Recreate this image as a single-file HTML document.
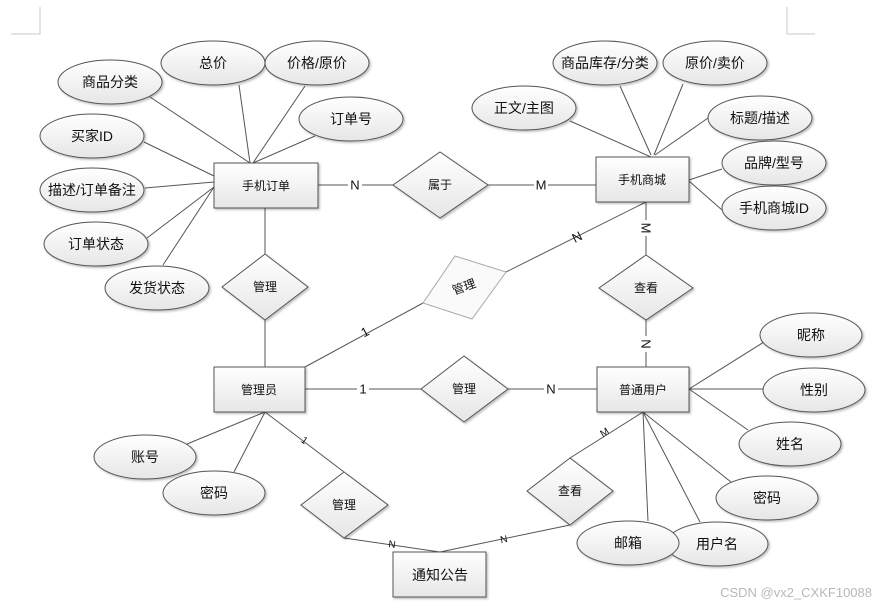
<!DOCTYPE html>
<html><head><meta charset="utf-8"><style>
html,body{margin:0;padding:0;background:#fff;}
svg{display:block;font-family:"Liberation Sans","Noto Sans CJK SC",sans-serif;}
</style></head><body>
<svg width="875" height="609" viewBox="0 0 875 609" xmlns="http://www.w3.org/2000/svg">
<defs>
<linearGradient id="g" x1="0" y1="0" x2="0" y2="1"><stop offset="0" stop-color="#ffffff"/><stop offset="1" stop-color="#e6e6e6"/></linearGradient>
<filter id="s" x="-20%" y="-20%" width="140%" height="150%"><feDropShadow dx="1.5" dy="1.5" stdDeviation="1" flood-color="#000" flood-opacity="0.25"/></filter>
</defs>
<g stroke="#c8c8c8" stroke-width="1" fill="none">
<path d="M40 7V34H11M787 7V34H815"/>
</g>
<g stroke="#555" stroke-width="1" fill="none">
<line x1="150" y1="97" x2="250" y2="163"/><line x1="239" y1="85" x2="250" y2="163"/>
<line x1="305" y1="86" x2="253" y2="163"/><line x1="315" y1="136" x2="253" y2="163"/>
<line x1="144" y1="142" x2="214" y2="176"/><line x1="145" y1="188" x2="214" y2="182"/>
<line x1="147" y1="238" x2="214" y2="187"/><line x1="163" y1="265" x2="214" y2="187"/>
<line x1="318" y1="185" x2="393" y2="185"/><line x1="488" y1="185" x2="596" y2="185"/>
<line x1="570" y1="121" x2="651" y2="157"/><line x1="620" y1="86" x2="651" y2="155"/>
<line x1="683" y1="84" x2="654" y2="155"/><line x1="708" y1="118" x2="655" y2="155"/>
<line x1="722" y1="169" x2="689" y2="180"/><line x1="722" y1="210" x2="689" y2="181"/>
<line x1="646" y1="202" x2="646" y2="255"/><line x1="646" y1="320" x2="646" y2="367"/>
<line x1="265" y1="208" x2="265" y2="254"/><line x1="265" y1="320" x2="265" y2="367"/>
<line x1="305" y1="367" x2="423" y2="303"/><line x1="506" y1="272" x2="646" y2="202"/>
<line x1="305" y1="389" x2="421" y2="389"/><line x1="508" y1="389" x2="597" y2="389"/>
<line x1="265" y1="412" x2="187" y2="444"/><line x1="265" y1="412" x2="234" y2="472"/>
<line x1="265" y1="412" x2="344" y2="472"/><line x1="344" y1="538" x2="440" y2="552"/>
<line x1="440" y1="552" x2="570" y2="525"/><line x1="570" y1="458" x2="643" y2="412"/>
<line x1="689" y1="389" x2="764" y2="342"/><line x1="689" y1="389" x2="765" y2="389"/>
<line x1="689" y1="389" x2="748" y2="430"/><line x1="643" y1="412" x2="648" y2="521"/>
<line x1="643" y1="412" x2="700" y2="522"/><line x1="643" y1="412" x2="731" y2="482"/>
</g>
<g fill="url(#g)" stroke="#555" stroke-width="1" filter="url(#s)">
<rect x="214" y="163" width="104" height="45"/>
<rect x="596" y="157" width="93" height="45"/>
<rect x="214" y="367" width="91" height="45"/>
<rect x="597" y="367" width="92" height="45"/>
<rect x="393" y="552" width="93" height="45"/>
<polygon points="440,152 488,185 440,218 393,185"/>
<polygon points="265,254 308,287 265,320 222,287"/>
<polygon points="646,255 693,288 646,320 599,288"/>
<polygon points="464,356 508,389 464,422 421,389"/>
<polygon points="344,472 388,505 344,538 301,505"/>
<polygon points="570,458 613,491 570,525 527,491"/>
<ellipse cx="213" cy="63" rx="52" ry="22"/><ellipse cx="317" cy="63" rx="52" ry="22"/>
<ellipse cx="110" cy="82" rx="52" ry="22"/><ellipse cx="351" cy="119" rx="52" ry="22"/>
<ellipse cx="92" cy="136" rx="52" ry="22"/><ellipse cx="92" cy="190" rx="52" ry="22"/>
<ellipse cx="96" cy="244" rx="52" ry="22"/><ellipse cx="157" cy="288" rx="52" ry="22"/>
<ellipse cx="605" cy="63" rx="52" ry="22"/><ellipse cx="715" cy="63" rx="52" ry="22"/>
<ellipse cx="524" cy="108" rx="52" ry="22"/><ellipse cx="760" cy="118" rx="52" ry="22"/>
<ellipse cx="774" cy="163" rx="52" ry="22"/><ellipse cx="774" cy="208" rx="52" ry="22"/>
<ellipse cx="811" cy="335" rx="51" ry="22"/><ellipse cx="814" cy="390" rx="51" ry="22"/>
<ellipse cx="790" cy="444" rx="51" ry="22"/><ellipse cx="767" cy="498" rx="51" ry="22"/>
<ellipse cx="717" cy="544" rx="51" ry="22"/><ellipse cx="628" cy="543" rx="51" ry="22"/>
<ellipse cx="145" cy="457" rx="51" ry="22"/><ellipse cx="214" cy="493" rx="51" ry="22"/>
</g>
<polygon points="455,256 506,272 472,319 423,303" fill="#fafafa" stroke="#aaa" stroke-width="1"/>
<g font-size="14" fill="#111" text-anchor="middle" dominant-baseline="central">
<text x="213" y="63">总价</text><text x="317" y="63">价格/原价</text>
<text x="110" y="82">商品分类</text><text x="351" y="119">订单号</text>
<text x="92" y="136">买家ID</text><text x="92" y="190">描述/订单备注</text>
<text x="96" y="244">订单状态</text><text x="157" y="288">发货状态</text>
<text x="605" y="63">商品库存/分类</text><text x="715" y="63">原价/卖价</text>
<text x="524" y="108">正文/主图</text><text x="760" y="118">标题/描述</text>
<text x="774" y="163">品牌/型号</text><text x="774" y="208">手机商城ID</text>
<text x="811" y="335">昵称</text><text x="814" y="390">性别</text>
<text x="790" y="444">姓名</text><text x="767" y="498">密码</text>
<text x="717" y="544">用户名</text><text x="628" y="543">邮箱</text>
<text x="145" y="457">账号</text><text x="214" y="493">密码</text>
<text x="440" y="575">通知公告</text>
</g>
<g font-size="12" fill="#111" text-anchor="middle" dominant-baseline="central">
<text x="266" y="186">手机订单</text><text x="642" y="180">手机商城</text>
<text x="259" y="390">管理员</text><text x="643" y="390">普通用户</text>
<text x="440" y="185">属于</text><text x="265" y="287">管理</text>
<text x="646" y="288">查看</text><text x="464" y="389">管理</text>
<text x="344" y="505">管理</text><text x="570" y="491">查看</text>
<text x="464" y="287" transform="rotate(-20 464 287)">管理</text>
</g>
<g font-size="13" fill="#111" text-anchor="middle" dominant-baseline="central">
<rect x="348" y="177" width="14" height="16" fill="#fff"/><text x="355" y="185">N</text>
<rect x="534" y="177" width="14" height="16" fill="#fff"/><text x="541" y="185">M</text>
<rect x="638" y="220" width="16" height="16" fill="#fff"/><text x="646" y="228" transform="rotate(90 646 228)">M</text>
<rect x="638" y="336" width="16" height="16" fill="#fff"/><text x="646" y="344" transform="rotate(90 646 344)">N</text>
<text x="577" y="237" transform="rotate(-27 577 237)">N</text>
<text x="365" y="332" transform="rotate(-28 365 332)">1</text>
<rect x="357" y="381" width="12" height="16" fill="#fff"/><text x="363" y="389">1</text>
<rect x="544" y="381" width="14" height="16" fill="#fff"/><text x="551" y="389">N</text>
</g>
<g font-size="10" fill="#111" text-anchor="middle" dominant-baseline="central">
<text x="304" y="441" transform="rotate(37 304 441)">1</text>
<text x="392" y="545" transform="rotate(8 392 545)">N</text>
<text x="504" y="540" transform="rotate(-12 504 540)">N</text>
<text x="605" y="433" transform="rotate(-32 605 433)">M</text>
</g>
<text x="872" y="597" font-size="13" fill="#b8b8b8" text-anchor="end">CSDN @vx2_CXKF10088</text>
</svg>
</body></html>
